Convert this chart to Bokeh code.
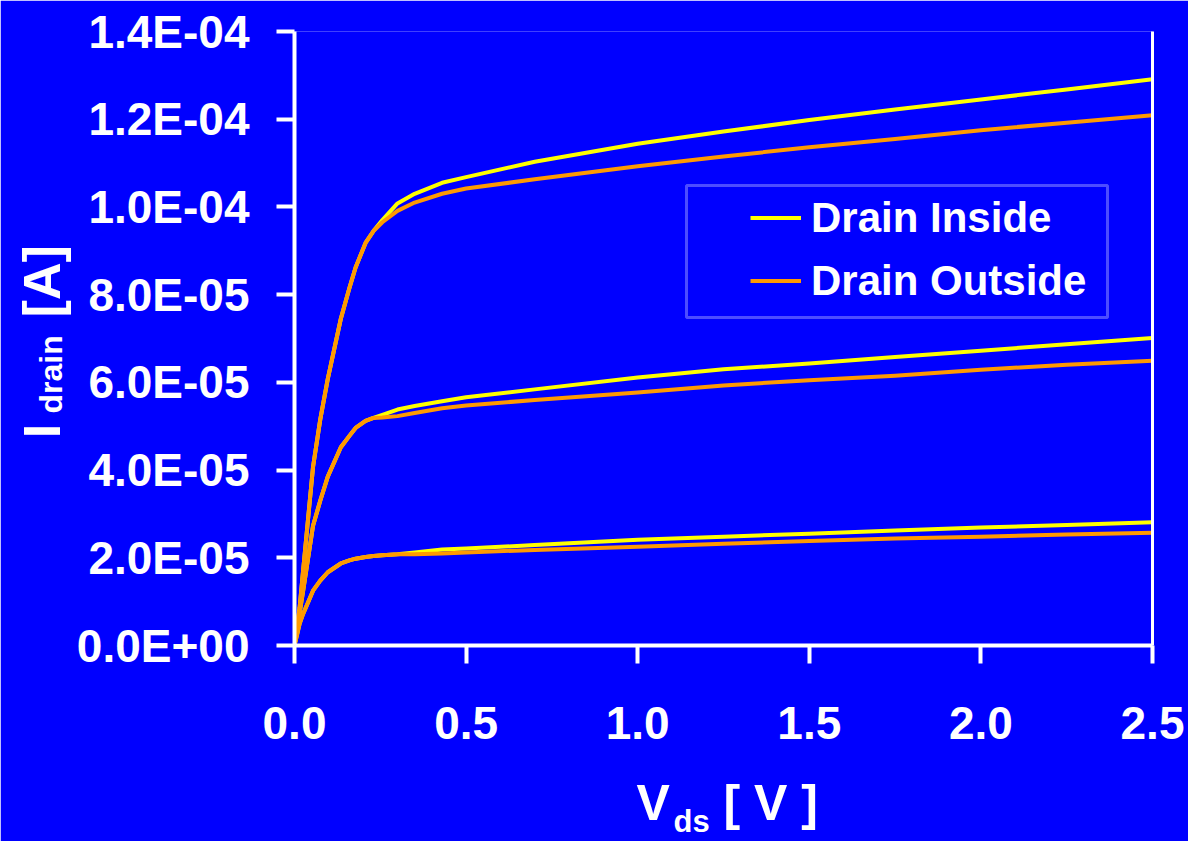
from bokeh.plotting import figure
from bokeh.models import (Range1d, FixedTicker, LinearAxis, Legend, LegendItem,
                          BoxAnnotation)
from bokeh.embed import file_html
from bokeh.resources import INLINE

# ---------------- data ----------------
vds = [0.0, 0.015, 0.025, 0.054, 0.075, 0.097, 0.135, 0.16, 0.178, 0.207, 0.23,
       0.256, 0.3, 0.35, 0.43, 0.5, 0.7, 1.0, 1.25, 1.5, 1.75, 2.0, 2.25, 2.5]

# drain current in units of 1e-5 A
top_inside = [0, 0.87, 1.7, 4.07, 5.15, 6.08, 7.45, 8.15, 8.62, 9.18, 9.45,
              9.7, 10.08, 10.3, 10.55, 10.68, 11.03, 11.44, 11.72, 11.98, 12.22, 12.45, 12.68, 12.91]
top_outside = [0, 0.87, 1.7, 4.07, 5.15, 6.08, 7.45, 8.15, 8.62, 9.18, 9.45,
               9.65, 9.91, 10.1, 10.3, 10.42, 10.63, 10.93, 11.15, 11.36, 11.55, 11.75, 11.92, 12.09]
mid_inside = [0, 0.75, 1.24, 2.73, 3.3, 3.85, 4.52, 4.78, 4.96, 5.12, 5.19,
              5.26, 5.38, 5.46, 5.57, 5.66, 5.84, 6.11, 6.3, 6.43, 6.58, 6.72, 6.87, 7.01]
mid_outside = [0, 0.75, 1.24, 2.73, 3.3, 3.85, 4.52, 4.78, 4.96, 5.12, 5.19,
               5.2, 5.23, 5.3, 5.41, 5.47, 5.6, 5.77, 5.93, 6.05, 6.15, 6.29, 6.4, 6.49]
low_inside = [0, 0.5, 0.72, 1.25, 1.48, 1.67, 1.87, 1.94, 1.98, 2.02, 2.04,
              2.06, 2.08, 2.12, 2.19, 2.21, 2.29, 2.41, 2.48, 2.55, 2.62, 2.69, 2.75, 2.81]
low_outside = [0, 0.5, 0.72, 1.25, 1.48, 1.67, 1.87, 1.94, 1.98, 2.02, 2.04,
               2.06, 2.08, 2.08, 2.1, 2.12, 2.18, 2.25, 2.32, 2.38, 2.44, 2.48, 2.53, 2.57]

x_ticks = [0.0, 0.5, 1.0, 1.5, 2.0, 2.5]
x_tick_labels = ["0.0", "0.5", "1.0", "1.5", "2.0", "2.5"]
y_ticks = [0.0, 2e-5, 4e-5, 6e-5, 8e-5, 1e-4, 1.2e-4, 1.4e-4]
y_tick_labels = ["0.0E+00", "2.0E-05", "4.0E-05", "6.0E-05", "8.0E-05",
                 "1.0E-04", "1.2E-04", "1.4E-04"]
series_names = ["Drain Inside", "Drain Outside"]
x_title = ["V", "ds", "[ V ]"]
y_title = ["I", "drain", "[A]"]

# ---------------- style / layout ----------------
BG = "#0000FF"
YELLOW = "#FFFF00"
ORANGE = "#FF9900"
WHITE = "#FFFFFF"
FONT = "Liberation Sans"

W, H = 1188, 841
F_LEFT, F_RIGHT, F_TOP, F_BOTTOM = 294, 1152, 31, 647   # frame edges (canvas px)
X0, X1 = 0.0, 2.5
Y0, Y1 = 0.0, 1.4e-4

def px_to_x(px):
    return X0 + (px - F_LEFT) / (F_RIGHT - F_LEFT) * (X1 - X0)

def py_to_y(py):
    return Y0 + (F_BOTTOM - py) / (F_BOTTOM - F_TOP) * (Y1 - Y0)

p = figure(width=W, height=H, output_backend="svg", toolbar_location=None,
           x_range=Range1d(X0, X1), y_range=Range1d(Y0, Y1),
           min_border_left=F_LEFT, min_border_right=W - F_RIGHT,
           min_border_top=F_TOP, min_border_bottom=H - F_BOTTOM)
p.background_fill_color = BG
p.border_fill_color = BG
p.outline_line_color = None
p.grid.visible = False

def scale(vals):
    return [v * 1e-5 for v in vals]

r_in = [p.line(vds, scale(s), line_color=YELLOW, line_width=4, line_join="round")
        for s in (top_inside, mid_inside, low_inside)]
r_out = [p.line(vds, scale(s), line_color=ORANGE, line_width=4, line_join="round")
         for s in (top_outside, mid_outside, low_outside)]

for ax in (p.xaxis[0], p.yaxis[0]):
    ax.axis_line_color = WHITE
    ax.axis_line_width = 4
    ax.major_tick_line_color = WHITE
    ax.major_tick_line_width = 4
    ax.major_tick_out = 18
    ax.major_tick_in = 0
    ax.minor_tick_line_color = None
    ax.major_label_text_color = WHITE
    ax.major_label_text_font = FONT
    ax.major_label_text_font_style = "bold"
    ax.major_label_text_font_size = "46px"

p.xaxis[0].ticker = FixedTicker(ticks=x_ticks)
p.xaxis[0].major_label_overrides = dict(zip(x_ticks, x_tick_labels))
p.xaxis[0].major_label_standoff = 43
p.yaxis[0].ticker = FixedTicker(ticks=y_ticks)
p.yaxis[0].major_label_overrides = dict(zip(y_ticks, y_tick_labels))
p.yaxis[0].major_label_standoff = 27

right = LinearAxis(ticker=FixedTicker(ticks=[]), axis_line_color=WHITE,
                   axis_line_width=3, major_tick_line_color=None,
                   minor_tick_line_color=None, major_label_text_alpha=0)
p.add_layout(right, "right")


# ---- axis titles built from label-only axes (keeps subscripts as real text)
def title_axis(positions, texts, size, standoff, orientation="horizontal"):
    ax = LinearAxis(ticker=FixedTicker(ticks=positions),
                    major_label_overrides=dict(zip(positions, texts)),
                    axis_line_color=None, major_tick_line_color=None,
                    minor_tick_line_color=None, major_tick_out=0, major_tick_in=0,
                    minor_tick_out=0, minor_tick_in=0,
                    major_label_standoff=standoff,
                    major_label_orientation=orientation,
                    major_label_text_color=WHITE, major_label_text_font=FONT,
                    major_label_text_font_style="bold",
                    major_label_text_font_size=size)
    return ax

# x title: "V" and "[ V ]" (large) then subscript "ds"
xt_main = title_axis([px_to_x(652.7), px_to_x(770.1)], [x_title[0], x_title[2]],
                     "50px", 33)
xt_sub = title_axis([px_to_x(691.2)], [x_title[1]], "31px", -30)
p.add_layout(xt_main, "below")
p.add_layout(xt_sub, "below")

# y title: "I" and "[A]" (large, rotated) then subscript "drain"
yt_main = title_axis([py_to_y(431.8), py_to_y(281.6)], [y_title[0], y_title[2]],
                     "52px", 2, "parallel")
yt_sub = title_axis([py_to_y(375.0)], [y_title[1]], "32px", -59, "parallel")
p.add_layout(yt_main, "left")
p.add_layout(yt_sub, "left")

# ---- legend
legend = Legend(items=[LegendItem(label=series_names[0], renderers=[r_in[0]]),
                       LegendItem(label=series_names[1], renderers=[r_out[0]])],
                location=(452, 329), orientation="vertical",
                glyph_width=51, glyph_height=63, label_height=63, spacing=0,
                padding=4, margin=0, label_standoff=10,
                label_text_color=WHITE, label_text_font=FONT,
                label_text_font_style="bold", label_text_font_size="42px",
                background_fill_alpha=0, border_line_alpha=0)
p.add_layout(legend, "center")
p.add_layout(BoxAnnotation(left=392, right=813, bottom=328, top=460,
                           left_units="screen", right_units="screen",
                           bottom_units="screen", top_units="screen",
                           fill_alpha=0, line_color=WHITE, line_width=3))

open("out.html", "w").write(file_html(p, INLINE))
